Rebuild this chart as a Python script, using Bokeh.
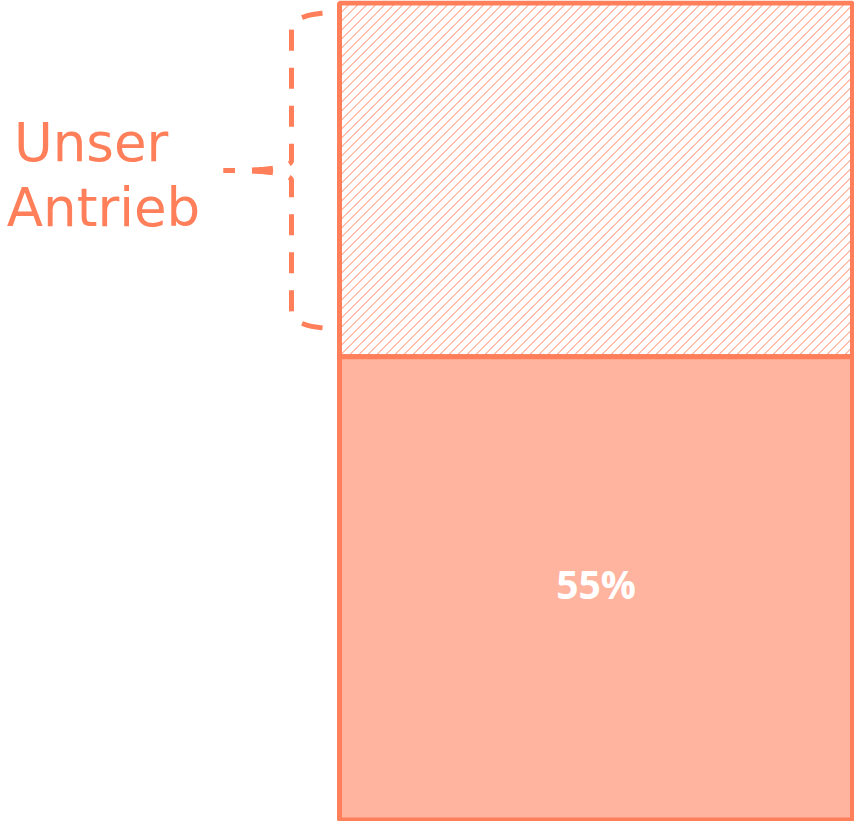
import numpy as np
from bokeh.plotting import figure
from bokeh.models import Range1d
from bokeh.core.properties import value
from bokeh.embed import file_html
from bokeh.resources import INLINE

# ---- data ----
segments = ["Rest", "Unser Antrieb"]
values = [55, 42]
labels = ["55%", ""]
brace_label_lines = ["Unser", "Antrieb"]

CORAL = "#FF7F5A"
FILL = "#FFB4A0"

W, H = 854, 821

bottoms = [0, values[0]]
tops = [values[0], values[0] + values[1]]
total = tops[-1]

# bar pixel geometry inside frame (layout)
bar_left_px, bar_right_px = 339.0, 852.0
bar_top_px, bar_bot_px = 2.5, 819.5
ppu_x = bar_right_px - bar_left_px
ppu_y = (bar_bot_px - bar_top_px) / total

x_start = -0.5 - bar_left_px / ppu_x
x_end = 0.5 + (W - bar_right_px) / ppu_x
y_start = 0 - (H - bar_bot_px) / ppu_y
y_end = total + bar_top_px / ppu_y

p = figure(width=W, height=H, output_backend="svg", toolbar_location=None,
           x_range=Range1d(x_start, x_end), y_range=Range1d(y_start, y_end),
           min_border=0, min_border_left=0, min_border_right=0,
           min_border_top=0, min_border_bottom=0)
p.extra_x_ranges = {"px": Range1d(0, W)}
p.extra_y_ranges = {"px": Range1d(H, 0)}
p.xaxis.visible = False
p.yaxis.visible = False
p.grid.visible = False
p.outline_line_color = None
p.background_fill_color = "white"
p.border_fill_color = "white"

# hatched segment: white fill
p.vbar(x=[0], width=1, bottom=[bottoms[1]], top=[tops[1]],
       fill_color="white", line_color=None)

# 45-degree hatch lines inside the hatched segment (derived from bar geometry)
hx0, hx1 = bar_left_px, bar_right_px
hy0 = bar_bot_px - tops[1] * ppu_y
hy1 = bar_bot_px - bottoms[1] * ppu_y
SP = 9
cs = np.arange(hx0 + hy0 + 2, hx1 + hy1, SP)
xa = np.maximum(hx0, cs - hy1)
xb = np.minimum(hx1, cs - hy0)
keep = xb > xa
cs, xa, xb = cs[keep], xa[keep], xb[keep]
p.segment(x0=xa, y0=cs - xa, x1=xb, y1=cs - xb, x_range_name="px",
          y_range_name="px", line_color=CORAL, line_width=1, line_alpha=1.0)

# outline of hatched segment
p.vbar(x=[0], width=1, bottom=[bottoms[1]], top=[tops[1]],
       fill_color=None, line_color=CORAL, line_width=5)
# solid segment
p.vbar(x=[0], width=1, bottom=[bottoms[0]], top=[tops[0]],
       fill_color=FILL, line_color=CORAL, line_width=5)

# value label
p.text(x=[0], y=[values[0] / 2], text=[labels[0]], text_color="white",
       text_font=value("Open Sans"), text_font_style="bold",
       text_font_size="39px", text_align="center", text_baseline="middle",
       y_offset=-5)

# ---- brace (pixel coords in the "px" ranges) ----
def quad(p0, c, p1, n=40):
    t = np.linspace(0, 1, n)[:, None]
    p0, c, p1 = map(np.array, (p0, c, p1))
    return (1 - t) ** 2 * p0 + 2 * (1 - t) * t * c + t ** 2 * p1

def half(sign):
    # sign=+1 top half (from top end to tip), -1 bottom half
    cy, tipx = 170.0, 223.0
    endy = cy - sign * 158.0
    cornery = cy - sign * 140.0
    midy = cy - sign * 10.0
    return np.vstack([
        quad((339, endy), (291, endy), (291, cornery)),
        np.array([[291, cornery], [291, midy]]),
        quad((291, midy), (291, cy), (tipx, cy)),
    ])

DASH, GAP = 21, 17
period = DASH + GAP
for sgn in (1, -1):
    pts = half(sgn)
    seg = np.hypot(np.diff(pts[:, 0]), np.diff(pts[:, 1]))
    s = np.concatenate([[0], np.cumsum(seg)])
    target_y = 170 - sgn * 141
    idx = np.argmin(np.abs(pts[:, 1] - target_y) + np.abs(pts[:, 0] - 291) * 10)
    s0 = s[idx]
    off = int(round((-s0) % period))
    p.line(x=pts[:, 0], y=pts[:, 1], x_range_name="px", y_range_name="px",
           line_color=CORAL, line_width=5, line_dash=f"{DASH} {GAP}",
           line_dash_offset=off)

# brace text
p.text(x=[13.4, 6.3], y=[142, 207], text=brace_label_lines,
       x_range_name="px", y_range_name="px",
       text_color=CORAL, text_font=value("DejaVu Sans"), text_font_size="53px",
       text_align="left", text_baseline="alphabetic")

open("out.html", "w").write(file_html(p, INLINE))
